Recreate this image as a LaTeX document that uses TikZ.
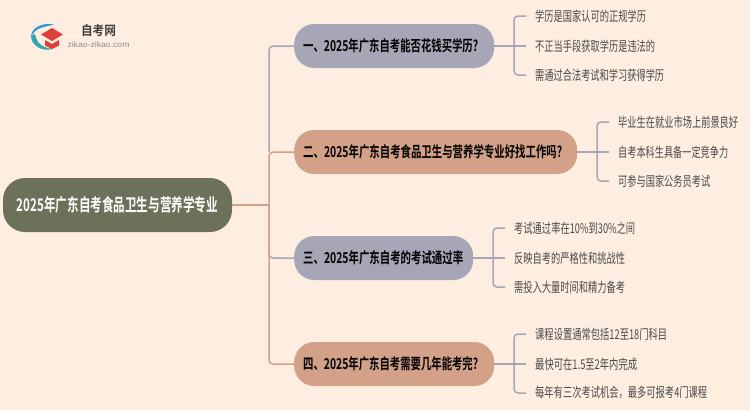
\documentclass[tikz,border=0pt]{standalone}
\usepackage{graphicx}
\usepackage{fontspec}
\setmainfont{Noto Sans CJK SC}[BoldFont={* Bold}]
\setsansfont{Liberation Sans}
\definecolor{bgc}{HTML}{FEEEE1}
\definecolor{rootc}{HTML}{6B7259}
\definecolor{greyc}{HTML}{A6A6B6}
\definecolor{peachc}{HTML}{D2A188}
\definecolor{leaftxt}{HTML}{4A4A4A}
\definecolor{logoblue}{HTML}{2E9BD6}
\definecolor{logoteal}{HTML}{2FA8B0}
\definecolor{logored}{HTML}{E0403C}
\newcommand{\fitw}[2]{\resizebox{#1pt}{\height}{\vphantom{国}#2}}
\newcommand{\fitplain}[2]{\resizebox{#1pt}{\height}{#2}}
\tikzset{
  rootbox/.style={fill=rootc,rounded corners=22pt,text=white,font=\bfseries\fontsize{17.5}{20}\selectfont,minimum height=54pt,minimum width=229pt,inner sep=0pt,align=center},
  branchbox/.style={rounded corners=20pt,text=black,font=\bfseries\fontsize{15}{18}\selectfont,minimum height=44pt,inner xsep=9pt,inner ysep=0pt,align=left,anchor=west},
  leaf/.style={anchor=west,text=leaftxt,font=\fontsize{13.5}{16}\selectfont,inner xsep=9pt,inner ysep=0pt},
  greyline/.style={draw=greyc,line width=1.5pt,rounded corners=4pt},
  peachline/.style={draw=peachc,line width=1.5pt,rounded corners=4pt},
}
\begin{document}
\begin{tikzpicture}[x=1pt,y=-1pt]
\fill[bgc] (0,0) rectangle (750,410);
\useasboundingbox (0,0) rectangle (750,410);
% logo
\fill[black!7] (66,38.7) rectangle (131,39.3);
\fill[logoblue] (54,24.5) .. controls (42,22) and (31,28) .. (31,37) .. controls (33,33) and (36,29) .. (42,27.5) .. controls (46,26.5) and (50,25.5) .. (54,24.5) -- cycle;
\fill[logoteal] (31,37) .. controls (32,45) and (41,52) .. (53,49) .. controls (45,48) and (38,45) .. (36,38) .. controls (36,33) and (33,33) .. (31,37) -- cycle;
\fill[logored] (41,34.5) -- (52,28) -- (63,34.5) -- (52,41) -- cycle;
\fill[logored] (45,40) -- (52,44) -- (59,40) -- (59,45.5) -- (52,49) -- (45,45.5) -- cycle;
\node[inner sep=0pt,font=\bfseries\fontsize{13}{15}\selectfont,text=black!75] (logotitle) at (98.5,30.5) {\fitw{35}{自考网}};
\node[inner sep=0pt,font=\sffamily\fontsize{8}{9}\selectfont,text=black!45] (logosub) at (98.5,45) {\fitplain{62}{zikao-zikao.com}};
% nodes
\node[rootbox] (root) at (117.5,205) {\fitw{201}{2025年广东自考食品卫生与营养学专业}};
\node[branchbox,fill=greyc,text width=182pt] (n1) at (294,46) {\fitw{175}{一、2025年广东自考能否花钱买学历?}};
\node[branchbox,fill=peachc,text width=265pt] (n2) at (294,152) {\fitw{259}{二、2025年广东自考食品卫生与营养学专业好找工作吗?}};
\node[branchbox,fill=greyc,text width=161pt] (n3) at (294,258) {\fitw{160}{三、2025年广东自考的考试通过率}};
\node[branchbox,fill=peachc,text width=182pt] (n4) at (294,364) {\fitw{175}{四、2025年广东自考需要几年能考完?}};
% leaves
\node[leaf] (a1) at (526,16) {\fitw{111}{学历是国家认可的正规学历}};
\node[leaf] (a2) at (526,46) {\fitw{120}{不正当手段获取学历是违法的}};
\node[leaf] (a3) at (526,75) {\fitw{129}{需通过合法考试和学习获得学历}};
\node[leaf] (b1) at (609,122) {\fitw{120}{毕业生在就业市场上前景良好}};
\node[leaf] (b2) at (609,152) {\fitw{110}{自考本科生具备一定竞争力}};
\node[leaf] (b3) at (609,181) {\fitw{92}{可参与国家公务员考试}};
\node[leaf] (c1) at (505,228) {\fitw{121}{考试通过率在10\%到30\%之间}};
\node[leaf] (c2) at (505,258) {\fitw{111}{反映自考的严格性和挑战性}};
\node[leaf] (c3) at (505,287) {\fitw{111}{需投入大量时间和精力备考}};
\node[leaf] (d1) at (526,334) {\fitw{132}{课程设置通常包括12至18门科目}};
\node[leaf] (d2) at (526,364) {\fitw{102}{最快可在1.5至2年内完成}};
\node[leaf] (d3) at (526,393) {\fitw{172}{每年有三次考试机会，最多可报考4门课程}};
% junctions
\coordinate (t) at (269,205);
\coordinate (ja) at (514,46);
\coordinate (jb) at (597,152);
\coordinate (jc) at (493,258);
\coordinate (jd) at (514,364);
% trunk connectors
\draw[greyline] (t |- n2.west) -- (t |- n1.west) -- (n1.west);
\draw[greyline] (t) |- (n3.west);
\draw[peachline] (root.east) -- (t);
\draw[peachline] (t) |- (n2.west);
\draw[peachline] (t) |- (n4.west);
% leaf connectors
\foreach \j/\p/\q/\r/\s in {ja/n1/a1/a2/a3,jb/n2/b1/b2/b3,jc/n3/c1/c2/c3,jd/n4/d1/d2/d3}{
  \draw[greyline] (\p.east) -- (\j);
  \draw[greyline] (\j) |- (\q.west);
  \draw[greyline] (\j) -- (\r.west);
  \draw[greyline] (\j) |- (\s.west);
}
\end{tikzpicture}
\end{document}
